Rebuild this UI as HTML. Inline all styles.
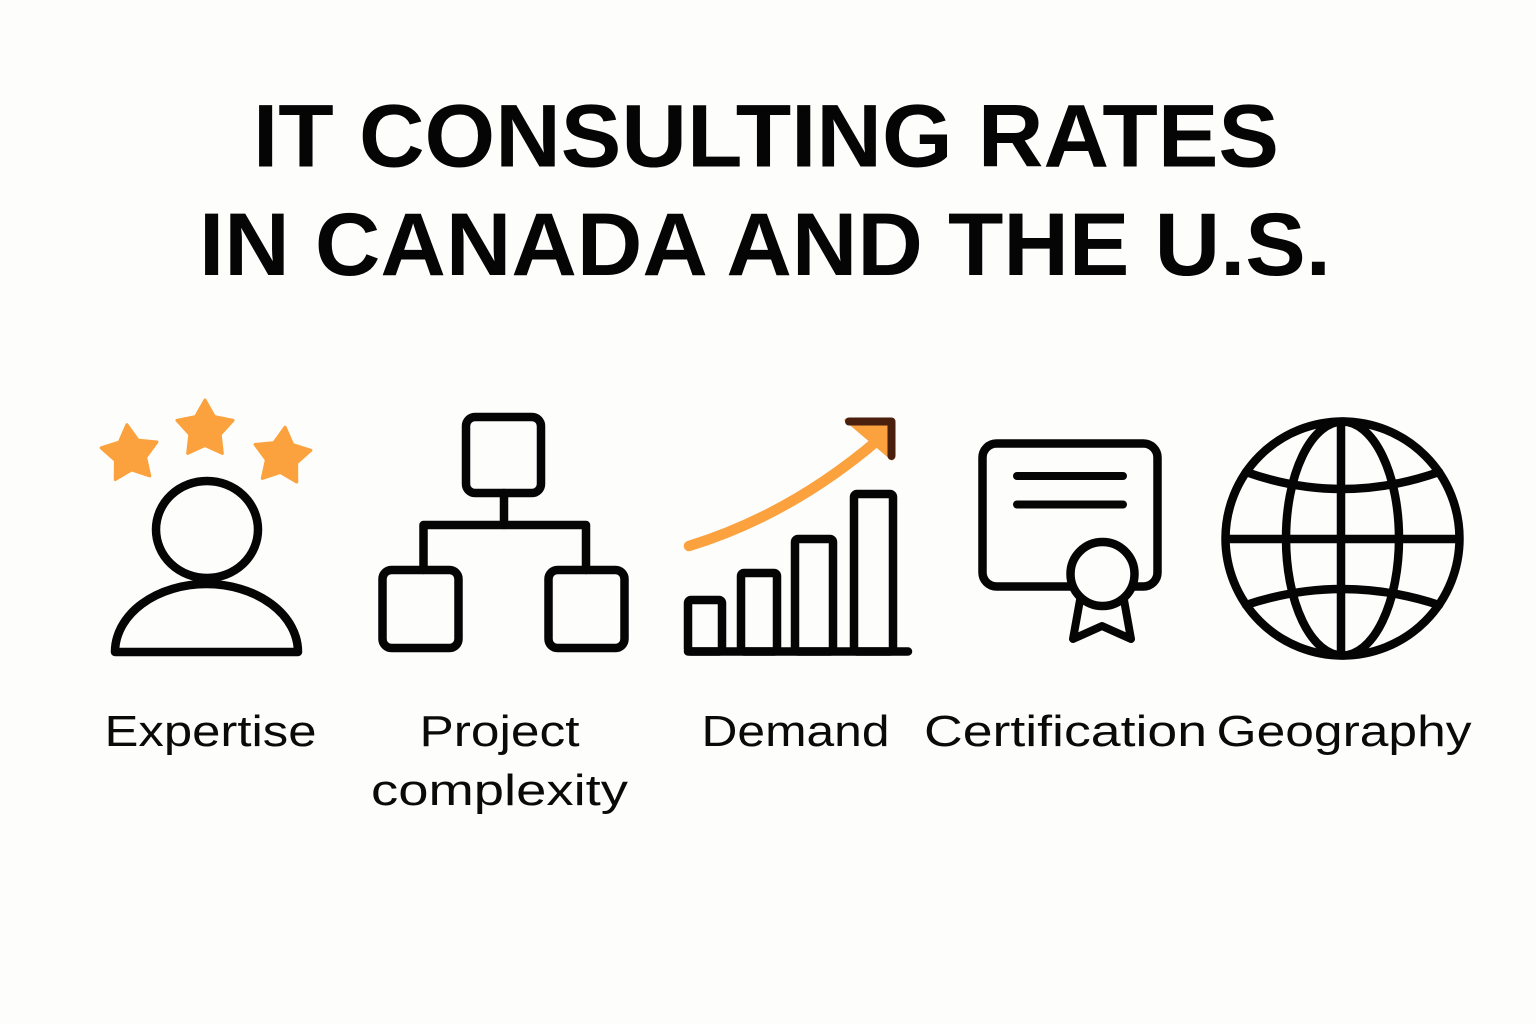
<!DOCTYPE html>
<html>
<head>
<meta charset="utf-8">
<style>
  html, body { margin: 0; padding: 0; background: #fdfdfb; }
  body { width: 1536px; height: 1024px; overflow: hidden; }
  svg { display: block; }
</style>
</head>
<body>
<svg width="1536" height="1024" viewBox="0 0 1536 1024" xmlns="http://www.w3.org/2000/svg">
  <rect x="0" y="0" width="1536" height="1024" fill="#fdfdfb"/>

  <!-- Title -->
  <g font-family="'Liberation Sans', Arial, sans-serif" font-weight="bold" font-size="89" fill="#050505" text-anchor="middle">
    <text x="766" y="166.5" textLength="1026" lengthAdjust="spacingAndGlyphs">IT CONSULTING RATES</text>
    <text x="765" y="275" textLength="1132" lengthAdjust="spacingAndGlyphs">IN CANADA AND THE U.S.</text>
  </g>

  <!-- Expertise icon: stars -->
  <g fill="#fba13d" stroke="#fba13d" stroke-width="3" stroke-linejoin="round">
    <polygon transform="translate(130,454) rotate(-6)" points="0,-29.5 9.4,-12.94 28.06,-9.12 15.22,4.94 17.34,23.87 0,16 -17.34,23.87 -15.22,4.94 -28.06,-9.12 -9.4,-12.94"/>
    <polygon transform="translate(205,429.5)" points="0,-29.5 9.4,-12.94 28.06,-9.12 15.22,4.94 17.34,23.87 0,16 -17.34,23.87 -15.22,4.94 -28.06,-9.12 -9.4,-12.94"/>
    <polygon transform="translate(282,456.5) rotate(6)" points="0,-29.5 9.4,-12.94 28.06,-9.12 15.22,4.94 17.34,23.87 0,16 -17.34,23.87 -15.22,4.94 -28.06,-9.12 -9.4,-12.94"/>
  </g>

  <g fill="none" stroke="#050505" stroke-width="8.5" stroke-linejoin="round" stroke-linecap="round">
    <!-- Person -->
    <path d="M 115 652 A 91.5 68 0 0 1 298 652 Z"/>
    <ellipse cx="207" cy="529.5" rx="51" ry="48.5" fill="#fdfdfb"/>

    <!-- Org chart -->
    <rect x="466" y="417" width="75" height="76" rx="9"/>
    <line x1="504" y1="493" x2="504" y2="525"/>
    <path d="M 423.5 570 L 423.5 525 L 586 525 L 586 570"/>
    <rect x="382.5" y="570" width="76" height="78" rx="9"/>
    <rect x="548.5" y="570" width="76" height="78" rx="9"/>

    <!-- Demand bars -->
    <rect x="688" y="600" width="34" height="51.5" rx="3"/>
    <rect x="741" y="573" width="36" height="78.5" rx="3"/>
    <rect x="795" y="539" width="38" height="112.5" rx="3"/>
    <rect x="854" y="494" width="39" height="157.5" rx="3"/>
    <path d="M 688 651.5 L 908 651.5"/>
  </g>

  <!-- Demand arrow -->
  <path d="M 689 546 Q 790 515 878 440" fill="none" stroke="#fba13d" stroke-width="10.5" stroke-linecap="round"/>
  <polygon points="846,420 892,420 892,459" fill="#fba13d" stroke="#fba13d" stroke-width="3" stroke-linejoin="round"/>
  <path d="M 849 421.5 L 891.5 421.5 L 891.5 456" fill="none" stroke="#4a1f0e" stroke-width="8" stroke-linecap="round" stroke-linejoin="round"/>

  <!-- Certificate -->
  <g fill="none" stroke="#050505" stroke-width="8.5" stroke-linejoin="round" stroke-linecap="round">
    <rect x="982.5" y="443.5" width="175" height="143" rx="14"/>
    <line x1="1017" y1="476" x2="1123" y2="476" stroke-width="8"/>
    <line x1="1017" y1="504.5" x2="1123" y2="504.5" stroke-width="8"/>
    <path d="M 1080 600 L 1073 639 L 1102 626 L 1131 639 L 1124 600" fill="#fdfdfb" stroke-width="8"/>
    <circle cx="1102.5" cy="574" r="32" fill="#fdfdfb"/>
  </g>

  <!-- Globe -->
  <g fill="none" stroke="#050505" stroke-width="8.5" stroke-linecap="round">
    <circle cx="1342.5" cy="538.5" r="117"/>
    <ellipse cx="1342.5" cy="538.5" rx="56.5" ry="117"/>
    <line x1="1341" y1="422" x2="1341" y2="655"/>
    <line x1="1226" y1="539" x2="1459" y2="539"/>
    <path d="M 1246 472 Q 1342 506 1439 472"/>
    <path d="M 1246 605 Q 1342 573 1439 605"/>
  </g>

  <!-- Labels -->
  <g font-family="'Liberation Sans', Arial, sans-serif" font-size="44" fill="#0a0a0a" text-anchor="middle">
    <text x="210.5" y="746" textLength="212" lengthAdjust="spacingAndGlyphs">Expertise</text>
    <text x="499.5" y="746" textLength="160" lengthAdjust="spacingAndGlyphs">Project</text>
    <text x="499.5" y="805" textLength="257" lengthAdjust="spacingAndGlyphs">complexity</text>
    <text x="795.5" y="746" textLength="188" lengthAdjust="spacingAndGlyphs">Demand</text>
    <text x="1065.5" y="746" textLength="283" lengthAdjust="spacingAndGlyphs">Certification</text>
    <text x="1344" y="746" textLength="255" lengthAdjust="spacingAndGlyphs">Geography</text>
  </g>
</svg>
</body>
</html>
